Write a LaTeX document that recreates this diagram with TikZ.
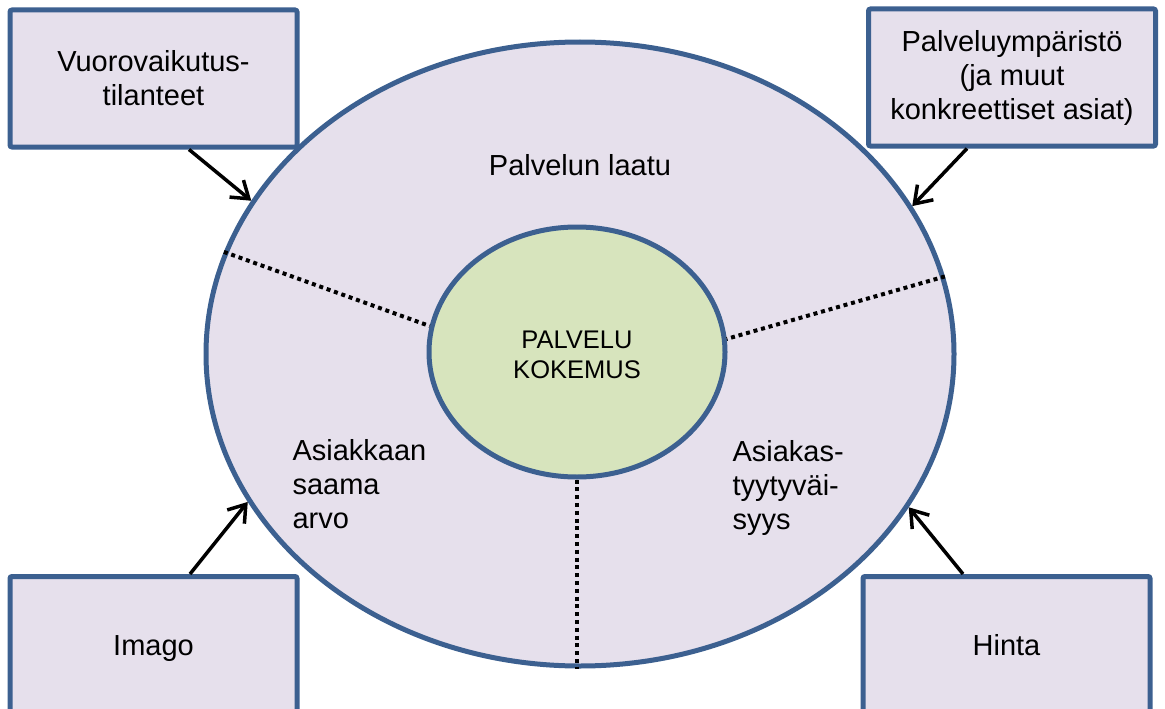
\documentclass[tikz,border=0pt]{standalone}
\usepackage{fontspec}
\setmainfont{Liberation Sans}
\usetikzlibrary{shapes.geometric,arrows.meta}
\definecolor{edge}{HTML}{3C6090}
\definecolor{lav}{HTML}{E6E0EC}
\definecolor{sage}{HTML}{D7E4BD}
\begin{document}
\begin{tikzpicture}[x=1pt,y=-1pt,
  txt/.style={font=\fontsize{29}{34}\selectfont},
  box/.style={txt, draw=edge, line width=5pt, fill=lav, rounded corners=2pt,
    inner sep=0pt, align=center, minimum width=287pt, minimum height=137pt},
  oval/.style={ellipse, draw=edge, line width=5pt, inner sep=0pt},
  arr/.style={-{Straight Barb[length=16pt,width=22pt]}, line width=3.5pt, black},
  divider/.style={line width=4pt, dash pattern=on 4pt off 3.8pt}]
\useasboundingbox (0,0) rectangle (1165,709);
\clip (0,0) rectangle (1165,709);

% outer quality ellipse and its three sectors
\node[oval, fill=lav, minimum width=748pt, minimum height=624pt] (outer) at (580,354) {};
\node[oval, fill=sage, minimum width=296pt, minimum height=250pt] (core) at (577,352) {};
\draw[divider] (outer.164.95) -- (core.170.7);
\draw[divider] (outer.12.86) -- (core.5.7);
\draw[divider] (core.south) -- (core.south |- outer.south);
\node[txt, align=center, font=\fontsize{25.5}{30}\selectfont] (coretext) at (577,355) {PALVELU\\KOKEMUS};

% sector labels
\node[txt] (quality) at (580,165) {Palvelun laatu};
\node[txt, align=left, anchor=west] (value) at (289,484) {Asiakkaan\\saama\\arvo};
\node[txt, align=left, anchor=west] (satis) at (729,488) {Asiakas-\\tyytyväi-\\syys};

% influencing factors
\node[box] (tl) at (153.5,78.5) {Vuorovaikutus-\\tilanteet};
\node[box] (tr) at (1012,77.5) {Palveluympäristö\\(ja muut\\konkreettiset asiat)};
\node[box] (bl) at (153.5,645) {\smash{Imago}\vphantom{Hinta}};
\node[box] (br) at (1006.5,645) {Hinta};

\draw[arr] ([xshift=35.5pt]tl.south) -- (outer.155.8);
\draw[arr] ([xshift=-45pt]tr.south) -- (outer.24.1);
\draw[arr] ([xshift=36.5pt]bl.north) -- (outer.204.5);
\draw[arr] ([xshift=-43.5pt]br.north) -- (outer.335.2);
\end{tikzpicture}
\end{document}
